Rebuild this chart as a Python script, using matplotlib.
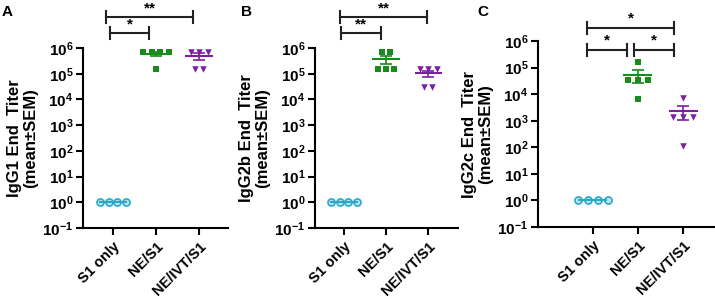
import numpy as np
import matplotlib
matplotlib.use('Agg')
import matplotlib.pyplot as plt
from matplotlib.ticker import FixedLocator, FuncFormatter, NullLocator

plt.rcParams['font.family'] = ['Liberation Sans', 'DejaVu Sans']
plt.rcParams['font.weight'] = 'bold'
plt.rcParams['mathtext.fontset'] = 'custom'
plt.rcParams['mathtext.rm'] = 'Liberation Sans:bold'
plt.rcParams['mathtext.bf'] = 'Liberation Sans:bold'
plt.rcParams['mathtext.default'] = 'bf'

# --- data (end titers per mouse) ---
groups = ['S1 only', 'NE/S1', 'NE/IVT/S1']

igg1_s1 = [1, 1, 1, 1]
igg1_ne = [7e5, 7e5, 7e5, 7e5, 1.5e5]
igg1_ivt = [7e5, 7e5, 7e5, 1.5e5, 1.5e5]

igg2b_s1 = [1, 1, 1, 1]
igg2b_ne = [7e5, 7e5, 1.5e5, 1.5e5, 1.5e5]
igg2b_ivt = [1.5e5, 1.5e5, 1.5e5, 3e4, 3e4]

igg2c_s1 = [1, 1, 1, 1]
igg2c_ne = [1.6e5, 3.4e4, 3.4e4, 3.4e4, 6.3e3]
igg2c_ivt = [6.9e3, 1.4e3, 1.4e3, 1.4e3, 110]

ylabels = ['IgG1 End  Titer\n(mean±SEM)', 'IgG2b End  Titer\n(mean±SEM)',
           'IgG2c End  Titer\n(mean±SEM)']

# significance brackets: (x0, x1, level, label)
sig_a = [(-0.07, 0.84, 6.58, '*'), (-0.16, 1.86, 7.2, '**')]
sig_b = [(-0.07, 0.88, 6.58, '**'), (-0.10, 1.98, 7.2, '**')]
sig_c = [(-0.13, 0.76, 5.66, '*'), (0.91, 1.80, 5.66, '*'), (-0.13, 1.80, 6.49, '*')]

colors = ['#2aa8c8', '#198a1c', '#7d1fa0']
markers = ['o', 's', 'v']

fig = plt.figure(figsize=(7.15, 2.99), dpi=100)
rects = [
    [83 / 715, 1 - 228 / 299, 145 / 715, 180 / 299],
    [315 / 715, 1 - 228 / 299, 143 / 715, 180 / 299],
    [538 / 715, 1 - 227 / 299, 177 / 715, 186 / 299],
]
xlims = [(-0.70, 2.67), (-0.69, 2.71), (-1.22, 2.71)]
steps = [0.2, 0.2, 0.22]
all_data = [
    [igg1_s1, igg1_ne, igg1_ivt],
    [igg2b_s1, igg2b_ne, igg2b_ivt],
    [igg2c_s1, igg2c_ne, igg2c_ivt],
]
all_sig = [sig_a, sig_b, sig_c]


def spread(vals, step):
    vals = np.asarray(vals, dtype=float)
    offs = np.zeros(len(vals))
    keys = np.round(np.log10(vals), 2)
    for k in np.unique(keys):
        idx = np.where(keys == k)[0]
        n = len(idx)
        offs[idx] = (np.arange(n) - (n - 1) / 2) * step
    return offs


def log_fmt(v, pos):
    e = int(round(np.log10(v)))
    return r'$10^{%d}$' % e


for i in range(3):
    ax = fig.add_axes(rects[i])
    for j, vals in enumerate(all_data[i]):
        vals = np.asarray(vals, dtype=float)
        xs = j + spread(vals, steps[i])
        if markers[j] == 'o':
            ax.scatter(xs, vals, marker='o', s=26, facecolor='#bfe6f0',
                       edgecolor=colors[j], linewidth=1.2, zorder=3, clip_on=False)
        else:
            ax.scatter(xs, vals, marker=markers[j], s=22, color=colors[j],
                       zorder=3, clip_on=False, linewidth=0)
        m = vals.mean()
        sem = vals.std(ddof=1) / np.sqrt(len(vals))
        ax.plot([j - 0.3, j + 0.3], [m, m], color=colors[j], lw=1.5, zorder=4)
        if sem > 0:
            ax.errorbar([j], [m], yerr=[[sem], [sem]], fmt='none', ecolor=colors[j],
                        elinewidth=1.2, capsize=4, capthick=1.2, zorder=4)

    ax.set_yscale('log')
    ax.set_ylim(0.1, 1e6)
    ax.set_xlim(*xlims[i])
    ax.yaxis.set_major_locator(FixedLocator([10.0 ** k for k in range(-1, 7)]))
    ax.yaxis.set_minor_locator(NullLocator())
    ax.yaxis.set_major_formatter(FuncFormatter(log_fmt))
    ax.set_xticks(range(3))
    ax.set_xticklabels(groups, rotation=45, ha='right', rotation_mode='anchor',
                       fontsize=10.5, fontweight='bold')
    ax.tick_params(axis='y', labelsize=11, width=1.5, length=5, direction='out', pad=2)
    ax.tick_params(axis='x', width=1.5, length=5, direction='out')
    for s in ['top', 'right']:
        ax.spines[s].set_visible(False)
    for s in ['left', 'bottom']:
        ax.spines[s].set_linewidth(1.5)
    ax.set_ylabel(ylabels[i], fontsize=12, fontweight='bold', labelpad=3,
                  linespacing=1.1)

    for x0, x1, lvl, lab in all_sig[i]:
        y = 10 ** lvl
        f = 10 ** 0.22
        ax.plot([x0, x1], [y, y], color='#222222', lw=1.5, clip_on=False)
        ax.plot([x0, x0], [y / f, y * f], color='#222222', lw=1.5, clip_on=False)
        ax.plot([x1, x1], [y / f, y * f], color='#222222', lw=1.5, clip_on=False)
        ax.text((x0 + x1) / 2, y * 10 ** 0.08, lab, ha='center', va='bottom',
                fontsize=11, fontweight='bold', clip_on=False)

fig.text(2 / 715, 1 - 12 / 299, 'A', fontsize=11, fontweight='bold', va='center')
fig.text(241 / 715, 1 - 12 / 299, 'B', fontsize=11, fontweight='bold', va='center')
fig.text(477 / 715, 1 - 12 / 299, 'C', fontsize=11, fontweight='bold', va='center')

fig.savefig('out.png', dpi=100)
